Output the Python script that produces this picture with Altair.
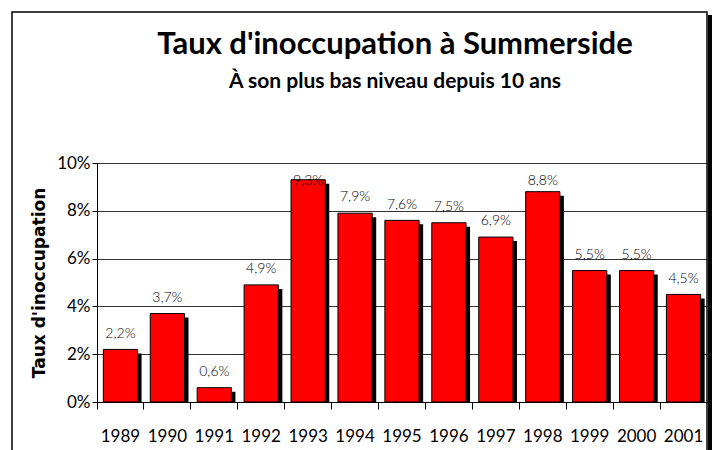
import altair as alt
import pandas as pd

years = ["1989", "1990", "1991", "1992", "1993", "1994", "1995", "1996", "1997", "1998", "1999", "2000", "2001"]
rates = [2.2, 3.7, 0.6, 4.9, 9.3, 7.9, 7.6, 7.5, 6.9, 8.8, 5.5, 5.5, 4.5]
y_ticks = [0, 2, 4, 6, 8, 10]
title_text = "Taux d'inoccupation à Summerside"
subtitle_text = "À son plus bas niveau depuis 10 ans"

df = pd.DataFrame({"year": years, "rate": rates})
df["label"] = [f"{v:.1f}".replace(".", ",") + "%" for v in rates]
df["zero"] = 0

W, H = 610, 239
FONT = "Lato"

x_enc = alt.X("year:N", sort=years, title=None,
              scale=alt.Scale(paddingInner=0, paddingOuter=0),
              axis=alt.Axis(bandPosition=0, labelAngle=0, labelFont=FONT, labelFontSize=17,
                            labelColor="black", labelPadding=19, tickSize=7, tickColor="black",
                            domainColor="black", labelBound=False))
y_scale = alt.Scale(domain=[0, 10], nice=False)

base = alt.Chart(df)

shadow = base.mark_bar(color="black", width=alt.RelativeBandSize(0.73), xOffset=4,
                       yOffset=4, y2Offset=0.01).encode(
    x=x_enc,
    y=alt.Y("rate:Q", scale=y_scale, title="Taux d'inoccupation",
            axis=alt.Axis(values=y_ticks, labelExpr="datum.value + '%'", labelFont=FONT,
                          labelFontSize=17, labelColor="black", labelPadding=2, tickSize=5,
                          tickColor="black", domainColor="black", gridColor="#333333",
                          titleFont="DejaVu Sans", titleFontSize=17, titleFontWeight="bold",
                          titleColor="black", titlePadding=8)),
    y2="zero:Q",
)

bars = base.mark_bar(color="#FF0000", stroke="black", strokeWidth=1,
                     width=alt.RelativeBandSize(0.73)).encode(
    x=alt.X("year:N", sort=years),
    y=alt.Y("rate:Q", scale=y_scale),
)

labels = base.transform_calculate(
    lpos="min(datum.rate + 0.66, 9.25)"
).mark_text(font=FONT, fontSize=14, color="black", fontWeight=300, baseline="middle").encode(
    x=alt.X("year:N", sort=years),
    y=alt.Y("lpos:Q", scale=y_scale),
    text="label:N",
)

one = alt.Chart(pd.DataFrame({"k": [0]}))
frame_shadow = one.mark_rect(color="black", clip=False).encode(
    x=alt.value(611), x2=alt.value(615), y=alt.value(-148), y2=alt.value(300))
frame = one.mark_rect(fill="white", fillOpacity=0, stroke="black", strokeWidth=1.5, clip=False).encode(
    x=alt.value(-85), x2=alt.value(610), y=alt.value(-151), y2=alt.value(300))

title_mark = one.mark_text(font=FONT, fontSize=31, fontWeight="bold", color="black",
                           baseline="middle", clip=False).encode(
    x=alt.value(298), y=alt.value(-118), text=alt.value(title_text))
subtitle_mark = one.mark_text(font=FONT, fontSize=21, fontWeight="bold", color="black",
                              baseline="middle", clip=False).encode(
    x=alt.value(298), y=alt.value(-81), text=alt.value(subtitle_text))

chart = alt.layer(frame_shadow, frame, title_mark, subtitle_mark, shadow, bars, labels).properties(
    width=W, height=H,
    autosize=alt.AutoSizeParams(type="none"),
    padding={"left": 97, "top": 163, "right": 6, "bottom": 48},
).configure_view(stroke="#808080", strokeWidth=1).configure_axis(
    gridWidth=1, domainWidth=1, tickWidth=1
).configure(background="white")

chart.save("out.html", embed_options={"renderer": "svg", "actions": False})
